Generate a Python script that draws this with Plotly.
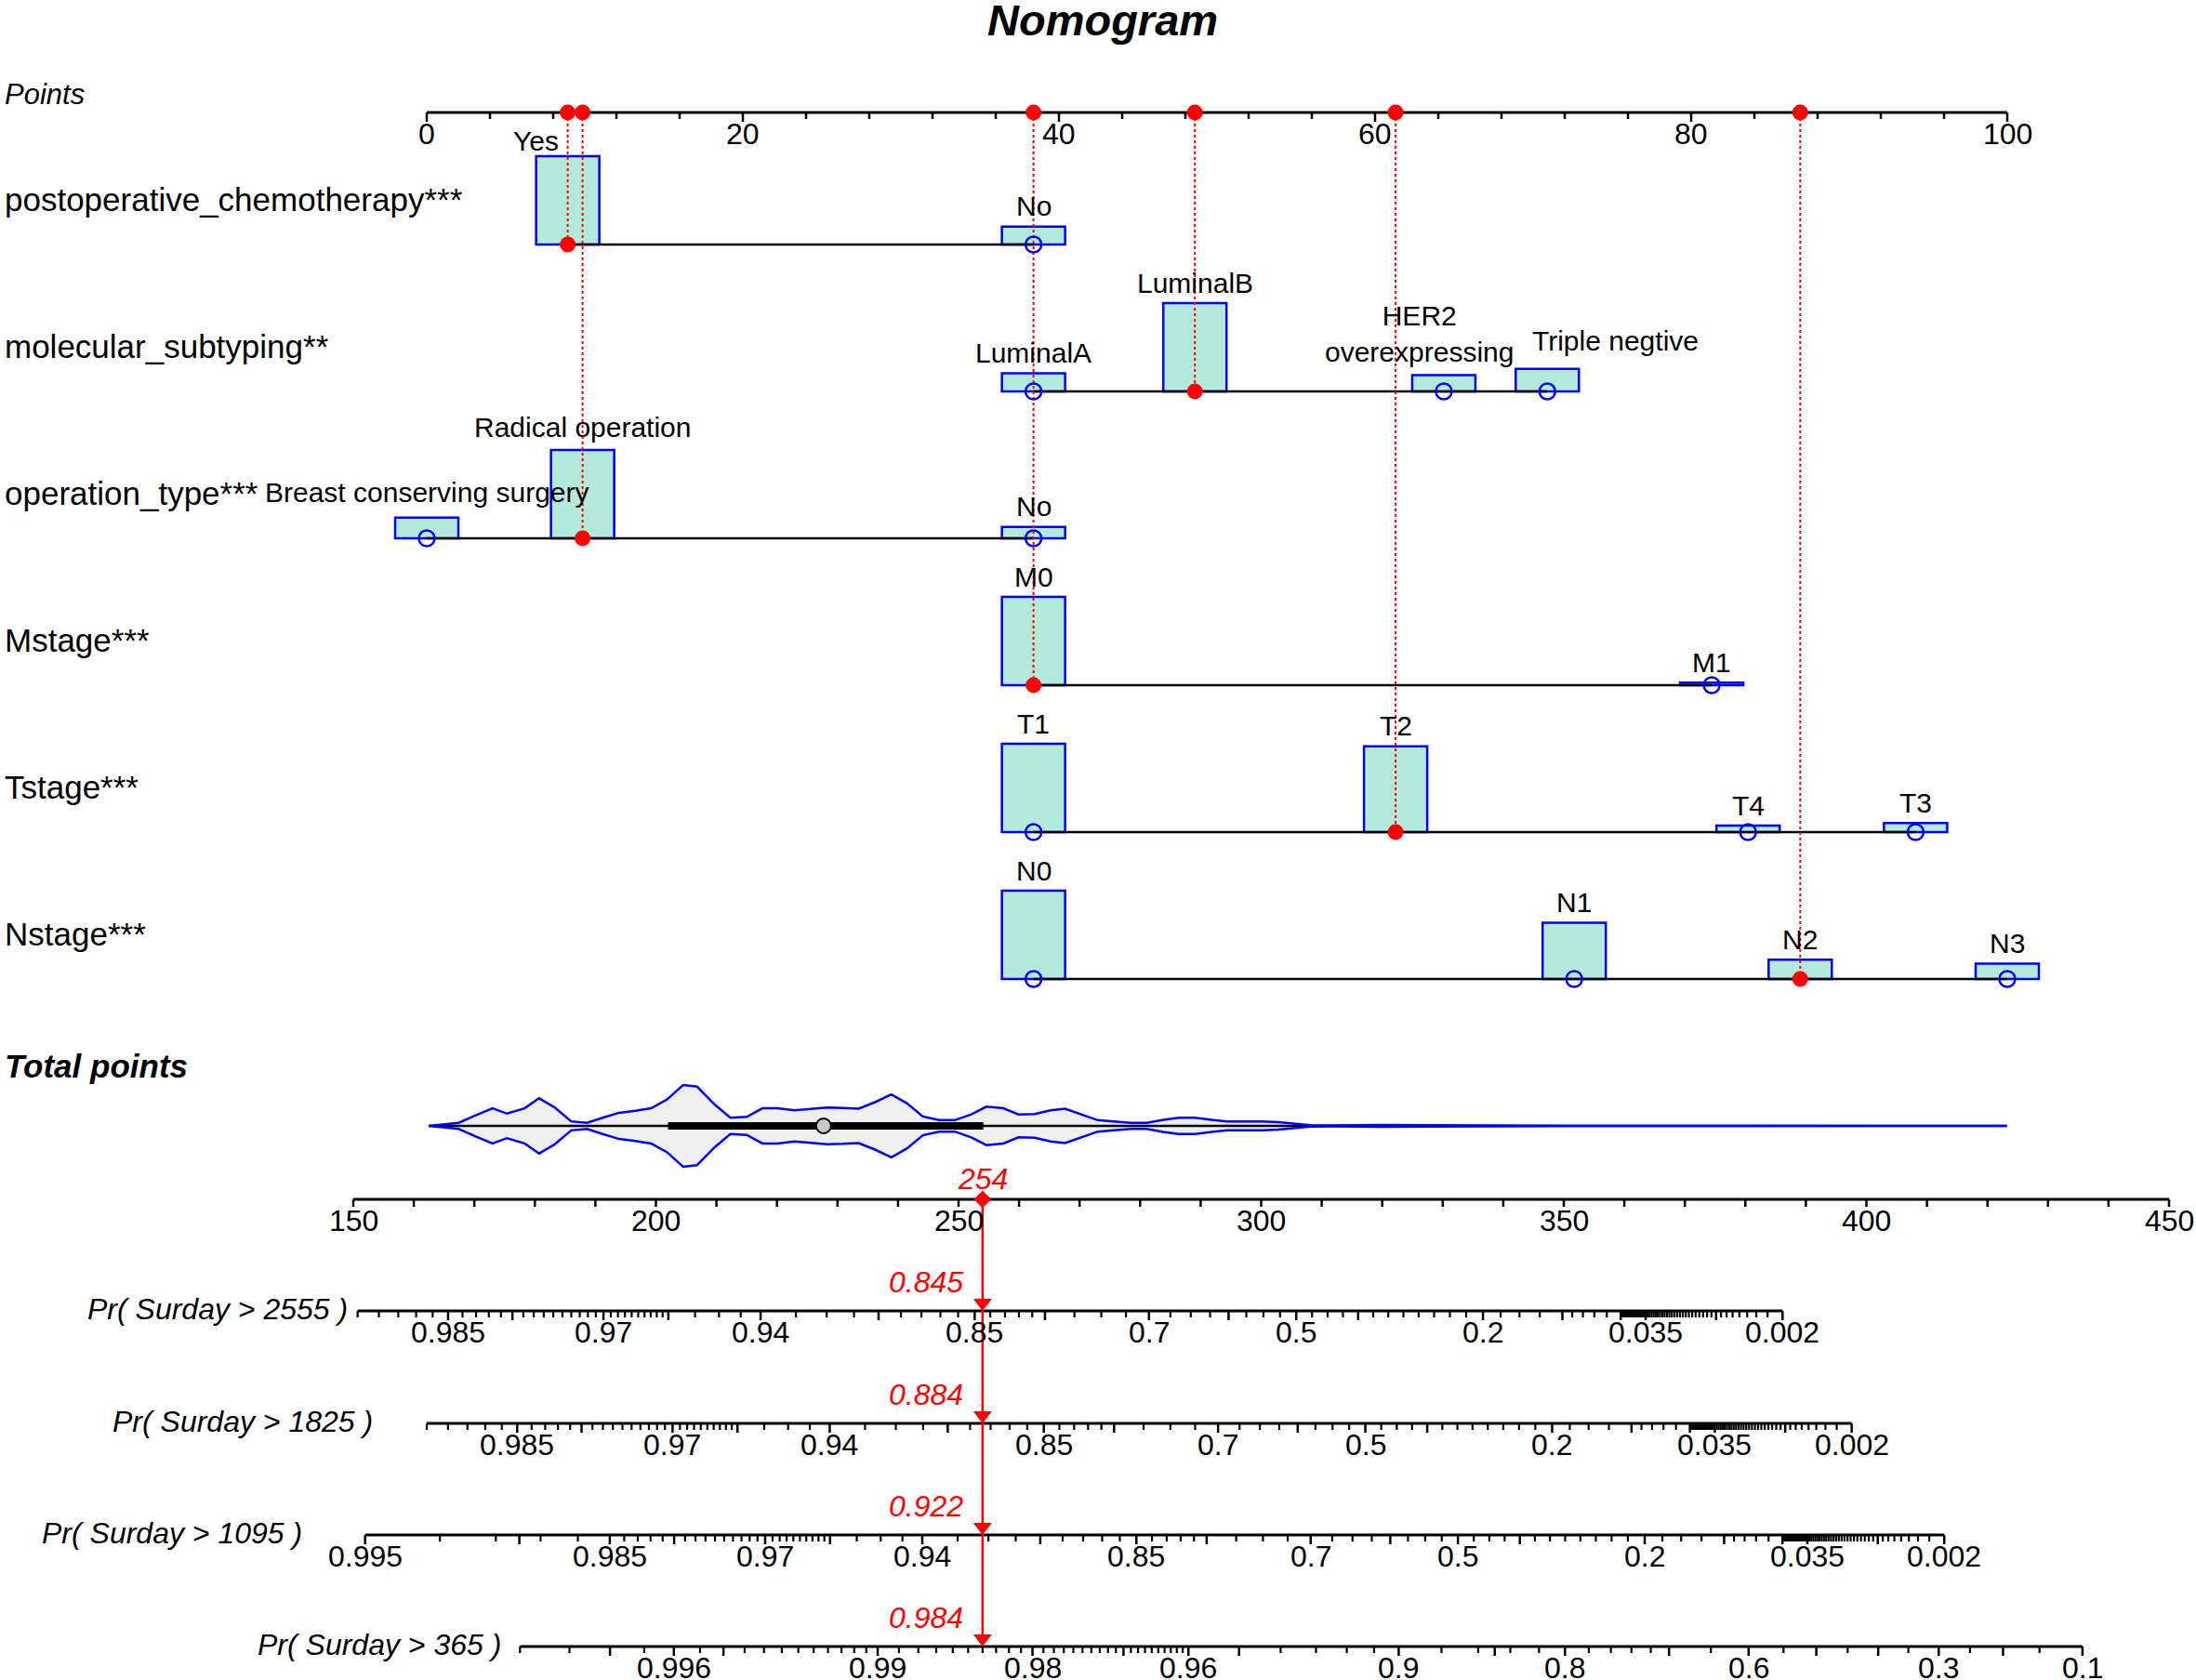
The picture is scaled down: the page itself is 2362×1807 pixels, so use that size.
import numpy as np
import plotly.graph_objects as go

# ====================== DATA ======================
chart_title = "Nomogram"
points_title = "Points"
total_title = "Total points"

variables = ["postoperative_chemotherapy***", "molecular_subtyping**", "operation_type***",
             "Mstage***", "Tstage***", "Nstage***"]

chemo_levels = ["Yes", "No"]
chemo_points = [8.92, 38.39]
chemo_freq = [83.1, 16.9]

subtype_levels = ["LuminalA", "LuminalB", "HER2<br>overexpressing", "Triple negtive"]
subtype_points = [38.39, 48.6, 64.35, 70.9]
subtype_freq = [12.5, 60.9, 11.2, 15.5]

optype_levels = ["Breast conserving surgery", "Radical operation", "No"]
optype_points = [0.0, 9.86, 38.39]
optype_freq = [17.1, 73.4, 9.5]

m_levels = ["M0", "M1"]
m_points = [38.39, 81.3]
m_freq = [97.2, 2.8]

t_levels = ["T1", "T2", "T4", "T3"]
t_points = [38.39, 61.3, 83.6, 94.2]
t_freq = [46.6, 45.2, 3.4, 4.8]

n_levels = ["N0", "N1", "N2", "N3"]
n_points = [38.39, 72.6, 86.9, 100.0]
n_freq = [49.3, 31.4, 10.8, 8.5]

selected_levels = ["Yes", "LuminalB", "Radical operation", "M0", "T2", "N2"]

points_tick_labels = [0, 20, 40, 60, 80, 100]
points_minor_step = 4
total_tick_labels = [150, 200, 250, 300, 350, 400, 450]
total_minor_step = 10

surv_days = [2555, 1825, 1095, 365]
surv_prob = [0.845, 0.884, 0.922, 0.984]
pr_tick_labels = {
    2555: ["0.985", "0.97", "0.94", "0.85", "0.7", "0.5", "0.2", "0.035", "0.002"],
    1825: ["0.985", "0.97", "0.94", "0.85", "0.7", "0.5", "0.2", "0.035", "0.002"],
    1095: ["0.995", "0.985", "0.97", "0.94", "0.85", "0.7", "0.5", "0.2", "0.035", "0.002"],
    365: ["0.996", "0.99", "0.98", "0.96", "0.9", "0.8", "0.6", "0.3", "0.1"],
}
pr_axis_limits = {2555: (0.99, 0.002), 1825: (0.99, 0.002), 1095: (0.995, 0.002), 365: (0.998, 0.1)}
pr_minor_segments = {
    2555: [(0.99, 0.96, 0.001), (0.96, 0.94, 0.005), (0.94, 0.8, 0.01), (0.8, 0.1, 0.025),
           (0.1, 0.05, 0.01), (0.05, 0.035, 0.0005), (0.035, 0.002, 0.001)],
    1825: [(0.99, 0.96, 0.001), (0.96, 0.94, 0.005), (0.94, 0.8, 0.01), (0.8, 0.1, 0.025),
           (0.1, 0.05, 0.01), (0.05, 0.035, 0.0005), (0.035, 0.002, 0.001)],
    1095: [(0.995, 0.985, 0.002), (0.985, 0.96, 0.001), (0.96, 0.94, 0.005), (0.94, 0.8, 0.01),
           (0.8, 0.1, 0.025), (0.1, 0.05, 0.01), (0.05, 0.035, 0.0005), (0.035, 0.002, 0.001)],
    365: [(0.998, 0.99, 0.0005), (0.99, 0.96, 0.001), (0.96, 0.9, 0.01), (0.9, 0.7, 0.02),
          (0.7, 0.1, 0.05)],
}
pr_long_ticks = {
    2555: [0.98, 0.96, 0.9, 0.8, 0.6, 0.4, 0.1, 0.05, 0.01],
    1825: [0.98, 0.96, 0.9, 0.8, 0.6, 0.4, 0.1, 0.05, 0.01],
    1095: [0.99, 0.98, 0.96, 0.9, 0.8, 0.6, 0.4, 0.1, 0.05, 0.01],
    365: [0.997, 0.995, 0.97, 0.95, 0.85, 0.7, 0.5, 0.4, 0.2],
}
prob_scale_beta = 0.0273   # slope of log(-log S) per total point

# distribution of total points (violin) and its box summary
violin_x = [162.5, 167.4, 170.4, 173.0, 175.4, 178.3, 180.7, 183.3, 186.0, 188.6, 191.2, 193.9,
            196.6, 199.2, 201.8, 204.5, 206.8, 209.8, 212.3, 215.0, 217.6, 220.1, 222.9, 225.6,
            228.3, 230.9, 233.5, 236.2, 238.9, 241.5, 244.1, 246.8, 249.4, 252.1, 254.6, 257.4,
            259.9, 262.6, 265.2, 267.6, 270.3, 273.0, 275.6, 278.5, 281.1, 283.8, 286.4, 289.1,
            291.8, 294.4, 297.3, 300.2, 302.8, 305.5, 308.2, 312.0, 316.0, 320.0, 326.0, 335.0,
            350.0, 380.0, 423.2]
violin_density = [0.0, 0.075, 0.27, 0.43, 0.30, 0.43, 0.675, 0.45, 0.11, 0.075, 0.20, 0.32,
                  0.37, 0.43, 0.64, 1.0, 0.96, 0.51, 0.20, 0.22, 0.43, 0.43, 0.38, 0.41,
                  0.45, 0.44, 0.42, 0.58, 0.77, 0.55, 0.23, 0.14, 0.14, 0.28, 0.47, 0.43,
                  0.28, 0.29, 0.38, 0.42, 0.28, 0.14, 0.11, 0.075, 0.075, 0.15, 0.20, 0.20,
                  0.15, 0.11, 0.11, 0.11, 0.09, 0.05, 0.016, 0.01, 0.02, 0.023, 0.018, 0.01,
                  0.007, 0.005, 0.0]
box_q1, box_median, box_q3 = 202.0, 227.7, 254.1
whisker_low, whisker_high = 162.5, 331.6

# ====================== LAYOUT / STYLE ======================
W, H = 2362, 1807
PTS_PX0, PTS_PX_PER = 459.0, 17.0        # pixel of 0 points, pixels per point
TOT_PX150, TOT_PX_PER = 380.0, 6.51      # pixel of 150 total points, pixels per total point
POINTS_AXIS_Y = 121
ROW_Y = [263, 421, 579, 737, 895, 1053]
BOX_MAX_H = 95
BOX_HALF_W = 2.0
VIOLIN_Y = 1211
VIOLIN_MAX_HALF = 44
TOTAL_AXIS_Y = 1290
PR_AXIS_Y = [1410, 1531, 1651, 1771]
PR_TITLE_RIGHT = [149.4, 153.5, 141.8, 174.8]   # total-point position of right edge of axis titles

FONT = "Liberation Sans, Arial, Helvetica, sans-serif"
BOX_FILL = "#b4eadc"
BLUE = "#0000ff"
RED = "#ff0000"
label_nudge = {"Yes": (-2.0, 5), "HER2<br>overexpressing": (-1.56, -23),
               "Triple negtive": (4.3, -8), "Breast conserving surgery": (0.0, -5),
               "Radical operation": (0.0, -3)}

rows = [
    (chemo_levels, chemo_points, chemo_freq),
    (subtype_levels, subtype_points, subtype_freq),
    (optype_levels, optype_points, optype_freq),
    (m_levels, m_points, m_freq),
    (t_levels, t_points, t_freq),
    (n_levels, n_points, n_freq),
]

fig = go.Figure()
annotations = []
shapes = []


def ann(text, x, y, xref="x", size=30, xanchor="center", yanchor="middle", color="black", xshift=0):
    annotations.append(dict(text=text, x=x, y=y, xref=xref, yref="y", showarrow=False,
                            xanchor=xanchor, yanchor=yanchor, xshift=xshift,
                            font=dict(family=FONT, size=size, color=color)))


def segs(pairs_x, pairs_y):
    xs, ys = [], []
    for (xa, xb), (ya, yb) in zip(pairs_x, pairs_y):
        xs += [xa, xb, None]
        ys += [ya, yb, None]
    return xs, ys


def line_trace(x, y, xaxis="x", color="black", width=2.5, dash="solid"):
    fig.add_trace(go.Scatter(x=x, y=y, xaxis=xaxis, yaxis="y", mode="lines",
                             line=dict(color=color, width=width, dash=dash),
                             hoverinfo="skip", showlegend=False))


# ---------- title & headers ----------
annotations.append(dict(text="<b><i>%s</i></b>" % chart_title, x=0.502, y=21, xref="paper", yref="y",
                        showarrow=False, xanchor="center", yanchor="middle",
                        font=dict(family=FONT, size=47, color="black")))
annotations.append(dict(text="<i>%s</i>" % points_title, x=3 / W, y=101, xref="paper", yref="y",
                        showarrow=False, xanchor="left", yanchor="middle",
                        font=dict(family=FONT, size=31, color="black")))
annotations.append(dict(text="<b><i>%s</i></b>" % total_title, x=3 / W, y=1146, xref="paper", yref="y",
                        showarrow=False, xanchor="left", yanchor="middle",
                        font=dict(family=FONT, size=35, color="black")))

# ---------- points axis ----------
p_lo, p_hi = min(points_tick_labels), max(points_tick_labels)
line_trace([p_lo, p_hi], [POINTS_AXIS_Y, POINTS_AXIS_Y], width=3)
tick_vals = np.arange(p_lo, p_hi + 0.001, points_minor_step)
px_, py_ = segs([(v, v) for v in tick_vals],
                [(POINTS_AXIS_Y, POINTS_AXIS_Y + (10 if v in points_tick_labels else 7)) for v in tick_vals])
line_trace(px_, py_, width=2.5)
for v in points_tick_labels:
    ann(str(v), v, 144, size=32)

# ---------- variable rows ----------
sel_x, sel_y, open_x, open_y = [], [], [], []
red_dot_lines = []
for i, (levels, pts, freq) in enumerate(rows):
    base = ROW_Y[i]
    fmax = max(freq)
    annotations.append(dict(text=variables[i], x=3 / W, y=base - 49, xref="paper", yref="y",
                            showarrow=False, xanchor="left", yanchor="middle",
                            font=dict(family=FONT, size=35, color="black")))
    line_trace([min(pts), max(pts)], [base, base], width=2.5)
    for lev, p, f in zip(levels, pts, freq):
        h = BOX_MAX_H * f / fmax
        shapes.append(dict(type="rect", xref="x", yref="y", x0=p - BOX_HALF_W, x1=p + BOX_HALF_W,
                           y0=base - h, y1=base, fillcolor=BOX_FILL,
                           line=dict(color=BLUE, width=2.5), layer="below"))
        dx, dy = label_nudge.get(lev, (0.0, 0))
        ann(lev, p + dx, base - h - 22 + dy, size=30)
        if lev in selected_levels:
            sel_x.append(p)
            sel_y.append(base)
            red_dot_lines.append((p, base))
        else:
            open_x.append(p)
            open_y.append(base)

# red dotted guides from the points axis
for p, base in red_dot_lines:
    line_trace([p, p], [POINTS_AXIS_Y, base], color=RED, width=2, dash="dot")

fig.add_trace(go.Scatter(x=open_x, y=open_y, mode="markers", xaxis="x", yaxis="y",
                         marker=dict(symbol="circle-open", size=17, color=BLUE, line=dict(width=2.5, color=BLUE)),
                         hoverinfo="skip", showlegend=False))
fig.add_trace(go.Scatter(x=sel_x + [p for p, _ in red_dot_lines],
                         y=sel_y + [POINTS_AXIS_Y] * len(red_dot_lines),
                         mode="markers", xaxis="x", yaxis="y",
                         marker=dict(symbol="circle", size=17, color=RED),
                         hoverinfo="skip", showlegend=False))

total_score = sum(sel_x)

# ---------- violin of total points ----------
vx = np.array(violin_x)
vd = np.array(violin_density) * VIOLIN_MAX_HALF
upper = VIOLIN_Y - vd
lower = VIOLIN_Y + vd
fig.add_trace(go.Scatter(x=list(vx) + list(vx[::-1]), y=list(upper) + list(lower[::-1]),
                         xaxis="x2", yaxis="y", mode="lines", fill="toself", fillcolor="#efefef",
                         line=dict(width=0, color="rgba(0,0,0,0)"), hoverinfo="skip", showlegend=False))
line_trace([whisker_low, whisker_high], [VIOLIN_Y, VIOLIN_Y], xaxis="x2", width=2.5)
line_trace([box_q1, box_q3], [VIOLIN_Y, VIOLIN_Y], xaxis="x2", width=8)
line_trace(list(vx), list(upper), xaxis="x2", color=BLUE, width=2.5)
line_trace(list(vx), list(lower), xaxis="x2", color=BLUE, width=2.5)
fig.add_trace(go.Scatter(x=[box_median], y=[VIOLIN_Y], xaxis="x2", yaxis="y", mode="markers",
                         marker=dict(symbol="circle", size=16, color="#c8c8c8", line=dict(color="black", width=2)),
                         hoverinfo="skip", showlegend=False))

# ---------- total points axis ----------
t_lo, t_hi = min(total_tick_labels), max(total_tick_labels)
line_trace([t_lo, t_hi], [TOTAL_AXIS_Y, TOTAL_AXIS_Y], xaxis="x2", width=3)
tv = np.arange(t_lo, t_hi + 0.001, total_minor_step)
tx_, ty_ = segs([(v, v) for v in tv], [(TOTAL_AXIS_Y, TOTAL_AXIS_Y + 8) for v in tv])
line_trace(tx_, ty_, xaxis="x2", width=2.5)
for v in total_tick_labels:
    ann(str(v), v, 1313, xref="x2", size=32)


# ---------- probability axes ----------
def loglog(p):
    return np.log(-np.log(p))


def tick_values(segments):
    vals = []
    for hi, lo, step in segments:
        n = int(round((hi - lo) / step))
        vals += [round(hi - i * step, 6) for i in range(n + 1)]
    return sorted(set(vals), reverse=True)


for k, (day, prob) in enumerate(zip(surv_days, surv_prob)):
    y0 = PR_AXIS_Y[k]
    offset = total_score - loglog(prob) / prob_scale_beta

    def pos(p, offset=offset):
        return offset + loglog(p) / prob_scale_beta

    pa, pb = pr_axis_limits[day]
    line_trace([pos(pa), pos(pb)], [y0, y0], xaxis="x2", width=2.8)
    labels = pr_tick_labels[day]
    label_vals = [float(s) for s in labels]
    long_vals = label_vals + [v for v in pr_long_ticks[day] if pb <= v <= pa]
    minor = [v for v in tick_values(pr_minor_segments[day]) if pb <= v <= pa
             and all(abs(v - lv) > 1e-9 for lv in long_vals)]
    mx, my = segs([(pos(v), pos(v)) for v in minor], [(y0, y0 + 7) for v in minor])
    line_trace(mx, my, xaxis="x2", width=2.2)
    Mx, My = segs([(pos(v), pos(v)) for v in long_vals], [(y0, y0 + 10) for v in long_vals])
    line_trace(Mx, My, xaxis="x2", width=2.5)
    for s, v in zip(labels, label_vals):
        ann(s, pos(v), y0 + 23, xref="x2", size=32)
    ann("<i>Pr( Surday &gt; %d )</i>" % day, PR_TITLE_RIGHT[k], y0 - 2, xref="x2", size=32,
        xanchor="right")
    ann("<i>%.3f</i>" % prob, total_score, y0 - 31, xref="x2", size=32, xanchor="right",
        color=RED, xshift=-19)

# ---------- red read-off arrow ----------
line_trace([total_score, total_score], [TOTAL_AXIS_Y, PR_AXIS_Y[-1] - 4], xaxis="x2", color=RED, width=2.5)
fig.add_trace(go.Scatter(x=[total_score] * len(PR_AXIS_Y), y=[y - 8.7 for y in PR_AXIS_Y],
                         xaxis="x2", yaxis="y", mode="markers",
                         marker=dict(symbol="triangle-down", size=17.3, color=RED),
                         hoverinfo="skip", showlegend=False))
fig.add_trace(go.Scatter(x=[total_score], y=[TOTAL_AXIS_Y], xaxis="x2", yaxis="y", mode="markers",
                         marker=dict(symbol="diamond", size=14.5, color=RED),
                         hoverinfo="skip", showlegend=False))
ann("<i>%d</i>" % round(total_score), total_score, 1268, xref="x2", size=32, color=RED)

fig.update_layout(
    width=W, height=H, autosize=False,
    margin=dict(l=0, r=0, t=0, b=0, pad=0),
    paper_bgcolor="white", plot_bgcolor="white", showlegend=False,
    xaxis=dict(range=[-PTS_PX0 / PTS_PX_PER, (W - PTS_PX0) / PTS_PX_PER], visible=False,
               domain=[0, 1], fixedrange=True),
    xaxis2=dict(range=[150 - TOT_PX150 / TOT_PX_PER, 150 + (W - TOT_PX150) / TOT_PX_PER],
                visible=False, overlaying="x", fixedrange=True),
    yaxis=dict(range=[H, 0], visible=False, domain=[0, 1], fixedrange=True),
    annotations=annotations,
    shapes=shapes,
    hovermode=False,
)

fig.write_html("out.html", config={"displayModeBar": False},
               post_script="document.body.style.margin='0px';document.body.style.overflow='hidden';")
